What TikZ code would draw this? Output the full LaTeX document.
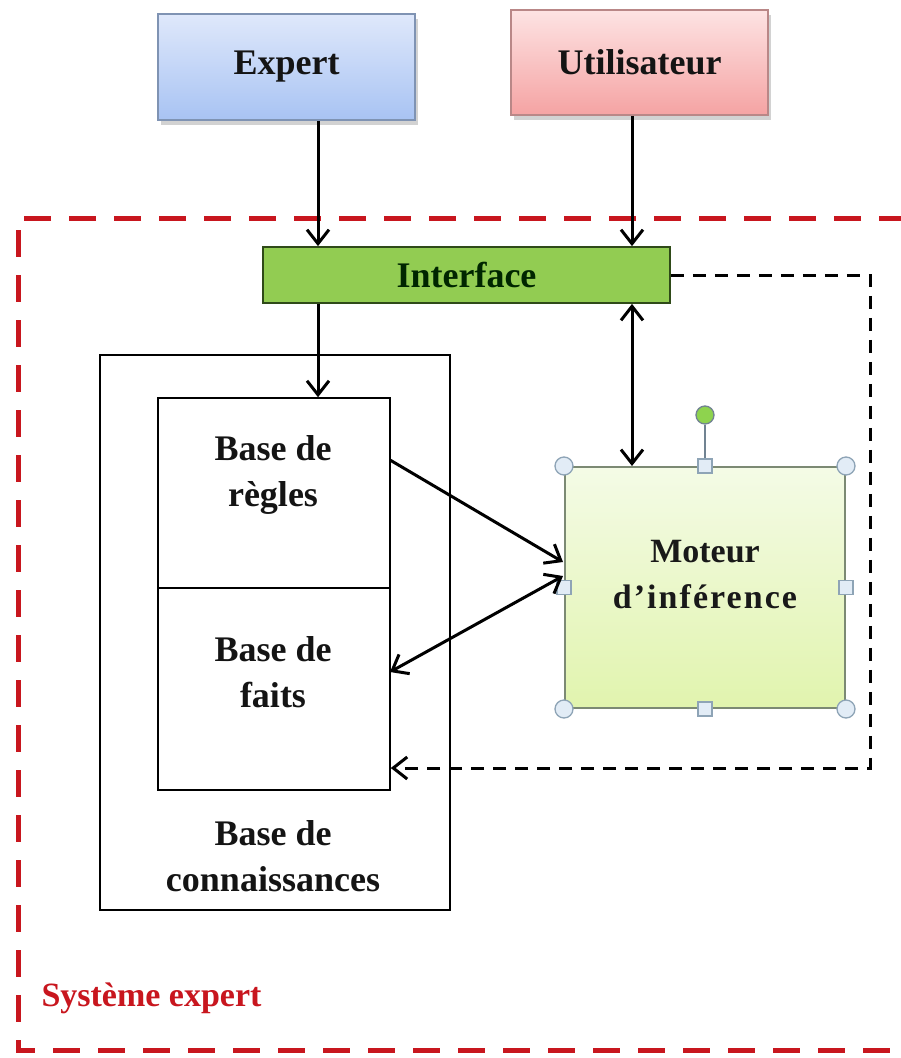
\documentclass[tikz,border=0pt]{standalone}
\usepackage{fontspec}
\setmainfont{Liberation Serif}
\usetikzlibrary{arrows.meta,shadows,calc}

\definecolor{expTop}{HTML}{DFE8FB}
\definecolor{expBot}{HTML}{A8C3F3}
\definecolor{expLine}{HTML}{7F93B3}
\definecolor{usrTop}{HTML}{FDE3E3}
\definecolor{usrBot}{HTML}{F5A3A3}
\definecolor{usrLine}{HTML}{B98787}
\definecolor{ifFill}{HTML}{92CC52}
\definecolor{ifLine}{HTML}{2F4A18}
\definecolor{motTop}{HTML}{F4FBE6}
\definecolor{motBot}{HTML}{E1F4AE}
\definecolor{motLine}{HTML}{7C8A74}
\definecolor{handleFill}{HTML}{E2ECF6}
\definecolor{handleLine}{HTML}{8EA4B6}
\definecolor{rotFill}{HTML}{8ED34E}
\definecolor{sysRed}{HTML}{C8161E}

\tikzset{
  boxtext/.style={font=\bfseries\fontsize{36}{46}\selectfont, align=center, text=black!92},
  topbox/.style={draw, line width=1.6pt, inner sep=0pt,
    drop shadow={opacity=0.35, shadow xshift=3pt, shadow yshift=-5pt}},
  plainbox/.style={draw, line width=1.6pt, inner sep=0pt},
  tip/.tip={Straight Barb[length=14pt,width=22pt,line width=3pt]},
  arr/.style={line width=3pt, -tip},
  darr/.style={line width=3pt, tip-tip},
  dasharr/.style={line width=3pt, dash pattern=on 13pt off 9pt, -tip},
  reddash/.style={sysRed, line width=5pt, dash pattern=on 27pt off 18pt},
  handle/.style={circle, draw=handleLine, fill=handleFill, line width=1.3pt, minimum size=18pt, inner sep=0pt},
  sqhandle/.style={rectangle, draw=handleLine, fill=handleFill, line width=1.3pt, minimum size=14pt, inner sep=0pt},
}

\begin{document}
\begin{tikzpicture}[x=1pt, y=-1pt]
  \useasboundingbox (0,0) rectangle (901,1058);
  \fill[white] (0,0) rectangle (901,1058);

  % outer frame of the expert system
  \draw[reddash] (906,218) -- (18,218) -- (18,1050) -- (906,1050);
  \node[anchor=west, text=sysRed, font=\bfseries\fontsize{34}{40}\selectfont] (sys) at (38,998) {Système expert};

  % actors
  \node[topbox, draw=expLine, top color=expTop, bottom color=expBot,
        minimum width=257pt, minimum height=106pt] (expert) at (286.5,67) {};
  \node[boxtext] (expertT) at (expert.center) {Expert};
  \node[topbox, draw=usrLine, top color=usrTop, bottom color=usrBot,
        minimum width=257pt, minimum height=105pt] (user) at (639.5,62.5) {};
  \node[boxtext] (userT) at (user.center) {Utilisateur};

  % interface
  \node[draw=ifLine, fill=ifFill, line width=1.8pt, inner sep=0pt,
        minimum width=407pt, minimum height=56pt] (iface) at (466.5,275) {};
  \node[boxtext, text=black!85!green] (ifaceT) at (iface.center) {Interface};

  % knowledge base
  \node[plainbox, minimum width=350pt, minimum height=555pt] (kb) at (275,632.5) {};
  \node[plainbox, minimum width=232pt, minimum height=190pt] (rules) at (274,493) {};
  \node[plainbox, minimum width=232pt, minimum height=202pt] (facts) at (274,689) {};
  \node[boxtext] (rulesT) at (273,475) {Base de\\règles};
  \node[boxtext] (factsT) at (273,672) {Base de\\faits};
  \node[boxtext] (kbT) at (273,856) {Base de\\connaissances};

  % inference engine with its selection handles
  \node[draw=motLine, line width=2pt, top color=motTop, bottom color=motBot,
        minimum width=280pt, minimum height=241pt, inner sep=0pt] (engine) at (705,587.5) {};
  \node[font=\bfseries\fontsize{34}{46}\selectfont, align=center, text=black!90] (engineT) at (705,575)
       {Moteur\\\addfontfeature{LetterSpace=6}d’inférence};
  \node[circle, draw=handleLine!80!black, fill=rotFill, line width=1.3pt, minimum size=18pt, inner sep=0pt] (rot) at (705,415) {};
  \draw[handleLine!80!black, line width=1.5pt] (rot.south) -- (engine.north);
  \foreach \a in {north west, north east, south west, south east}
    \node[handle] (h-\a) at (engine.\a) {};
  \foreach \a in {north, south, east, west}
    \node[sqhandle] (s-\a) at (engine.\a) {};

  % connectors
  \coordinate (xl) at (318,0);
  \coordinate (xr) at (632,0);
  \draw[arr] (expert.south -| xl) -- (iface.north -| xl);
  \draw[arr] (user.south -| xr) -- (iface.north -| xr);
  \draw[arr] (iface.south -| xl) -- (rules.north -| xl);
  \draw[darr] (iface.south -| xr) -- (engine.north -| xr);

  \coordinate (rOut) at (390,460);
  \coordinate (eIn1) at (563,562);
  \coordinate (fIn) at (390,672);
  \coordinate (eIn2) at (563,576);
  \draw[arr] (rOut) -- (eIn1);
  \draw[darr] (fIn) -- (eIn2);

  \coordinate (dx) at (870,0);
  \coordinate (dy) at (0,768);
  \draw[dasharr] (iface.east) -- (iface.east -| dx) -- (dx |- dy) -- (facts.east |- dy);
\end{tikzpicture}
\end{document}
